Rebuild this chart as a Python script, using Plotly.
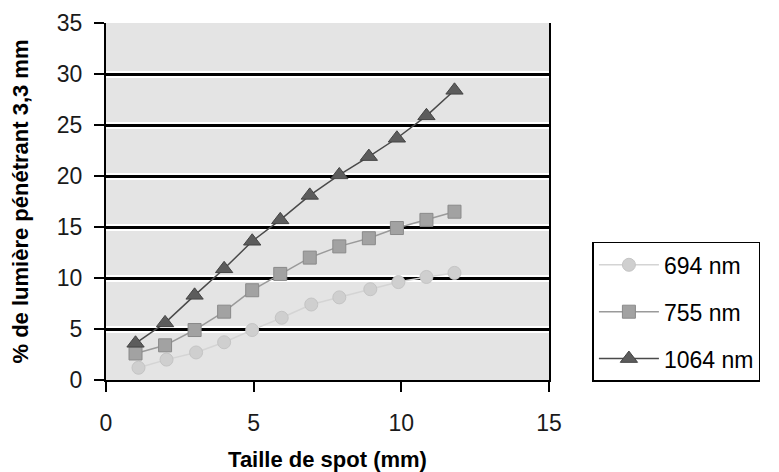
import plotly.graph_objects as go

# spot size (mm)
spot_x = [1, 2, 3, 4, 4.95, 5.9, 6.9, 7.9, 8.9, 9.85, 10.85, 11.8]
spot_x_694 = [1.1, 2.05, 3.05, 4, 4.95, 5.95, 6.95, 7.9, 8.95, 9.9, 10.85, 11.8]

pen_694 = [1.2, 2.0, 2.7, 3.7, 4.9, 6.1, 7.4, 8.1, 8.9, 9.6, 10.1, 10.5]
pen_755 = [2.6, 3.4, 4.9, 6.7, 8.8, 10.4, 12.0, 13.1, 13.9, 14.9, 15.7, 16.5]
pen_1064 = [3.6, 5.6, 8.3, 10.9, 13.6, 15.7, 18.1, 20.1, 21.9, 23.7, 25.9, 28.4]

names = ["694 nm", "755 nm", "1064 nm"]

fnt = "Liberation Sans, Arial, sans-serif"

fig = go.Figure()

fig.add_trace(go.Scatter(x=spot_x_694, y=pen_694, name=names[0], mode="lines+markers",
                         legendgroup="a",
                         line=dict(color="#d4d4d4", width=1.5),
                         marker=dict(symbol="circle", size=13, color="#cfcfcf",
                                     line=dict(color="#c4c4c4", width=1))))
fig.add_trace(go.Scatter(x=spot_x, y=pen_755, name=names[1], mode="lines+markers",
                         legendgroup="b",
                         line=dict(color="#9a9a9a", width=1.5),
                         marker=dict(symbol="square", size=13, color="#a2a2a2",
                                     line=dict(color="#8a8a8a", width=1))))
fig.add_trace(go.Scatter(x=spot_x, y=pen_1064, name=names[2], mode="lines+markers",
                         legendgroup="c",
                         line=dict(color="#4a4a4a", width=1.5),
                         marker=dict(symbol="triangle-up", size=15, color="#5c5c5c",
                                     line=dict(color="#444444", width=1))))

# page body has an 8px margin, so the figure is a bit smaller than the window
fig.update_layout(
    width=771, height=464,
    margin=dict(l=98, r=230, t=15, b=92),
    paper_bgcolor="white",
    plot_bgcolor="#e4e4e4",
    font=dict(family=fnt, size=23, color="#1a1a1a"),
    showlegend=True,
    legend=dict(x=1.098, y=0.387, xanchor="left", yanchor="top",
                bordercolor="black", borderwidth=1.5, bgcolor="white",
                traceorder="grouped", tracegroupgap=14, itemwidth=60,
                font=dict(size=23, color="black")),
    xaxis=dict(range=[0, 15], tickvals=[0, 5, 10, 15], showgrid=False, zeroline=False,
               showline=True, linecolor="black", linewidth=2, mirror=False,
               ticks="outside", ticklen=10, tickwidth=2, tickcolor="black",
               ticklabelstandoff=11, automargin=False,
               title=dict(text="<b>Taille de spot (mm)</b>", font=dict(size=22, color="black"),
                          standoff=22)),
    yaxis=dict(range=[0, 35], tickvals=[0, 5, 10, 15, 20, 25, 30, 35], showgrid=True,
               gridcolor="white", gridwidth=7, zeroline=False,
               showline=True, linecolor="black", linewidth=2, mirror=True,
               ticks="outside", ticklen=10, tickwidth=2, tickcolor="black",
               ticklabelstandoff=7, automargin=False,
               title=dict(text="<b>% de lumière pénétrant 3,3 mm</b>", font=dict(size=22, color="black"),
                          standoff=24)),
    yaxis2=dict(range=[0, 35], tickvals=[5, 10, 15, 20, 25, 30, 35], overlaying="y",
                showgrid=True, gridcolor="black", gridwidth=2.5, showticklabels=False,
                zeroline=False, showline=False, automargin=False),
)

# dummy trace to activate the overlay axis for the dark grid
fig.add_trace(go.Scatter(x=[None], y=[None], yaxis="y2", showlegend=False, hoverinfo="skip"))

fig.write_html("out.html")
